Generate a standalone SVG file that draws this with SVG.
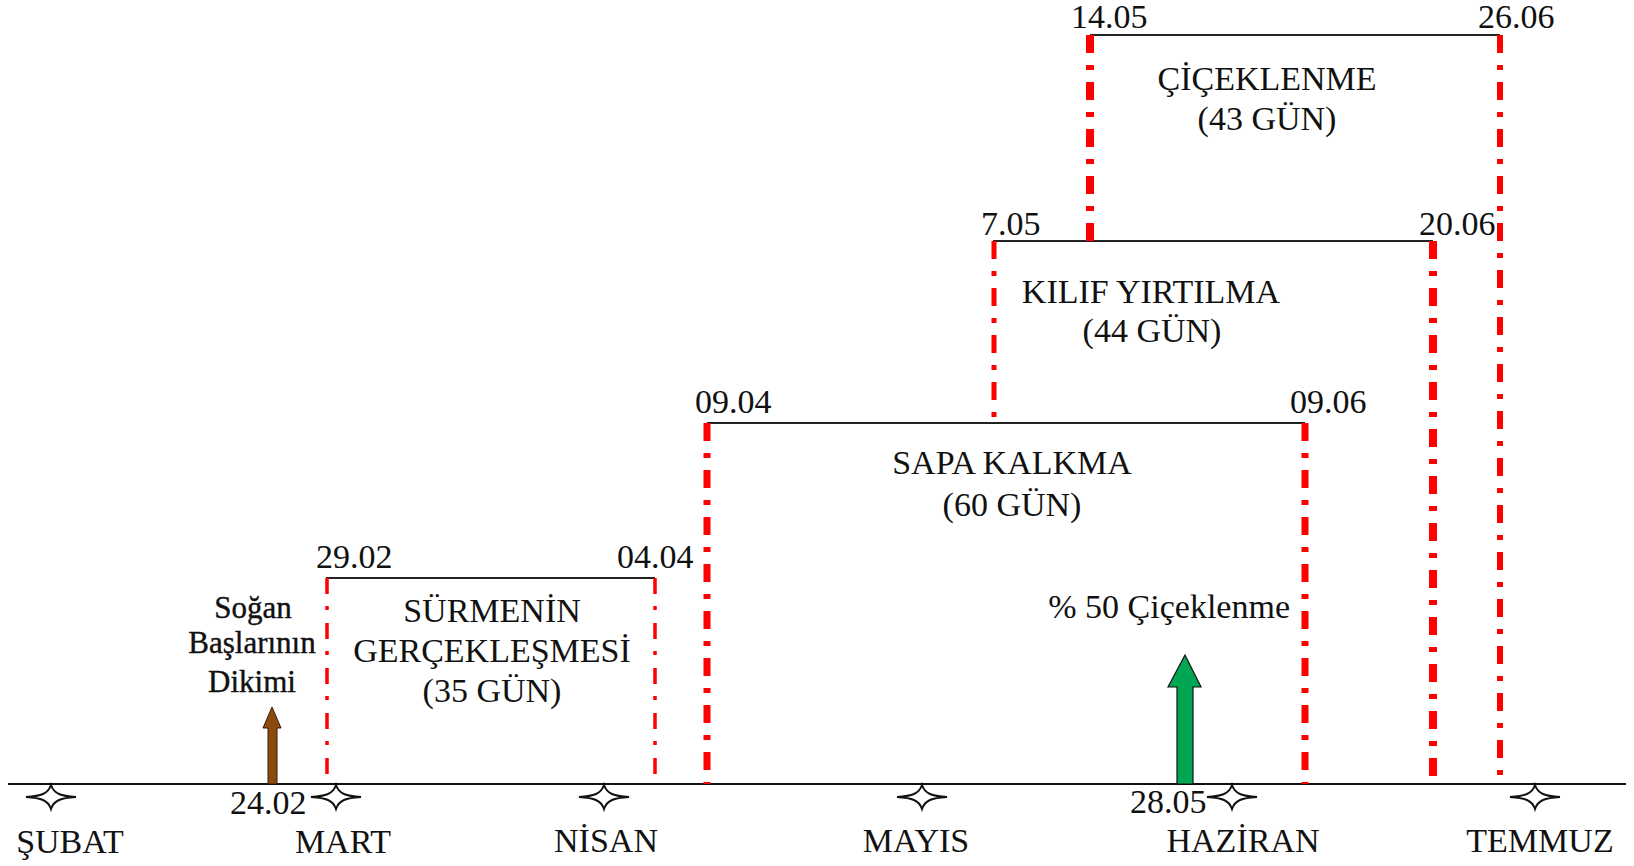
<svg xmlns="http://www.w3.org/2000/svg" width="1634" height="866" viewBox="0 0 1634 866">
<style>
text{font-family:"Liberation Serif","Times New Roman",serif;fill:#111;font-size:34px}
.c{text-anchor:middle}
.e{text-anchor:end}
.top{stroke:#222;stroke-width:2;fill:none}
.red{stroke:#ff0000;fill:none;stroke-dasharray:18 12 5 12}
.thin{stroke-width:3.5;stroke-dasharray:16 12 4 13}
.star{fill:#fff;stroke:#111;stroke-width:2}
.axis{stroke:#111;stroke-width:2}
.small{font-size:31px;stroke:#111;stroke-width:0.4}
</style>
<defs>
<path id="star" d="M-25,0 C-10,-1 -3,-3 0,-12 C3,-3 10,-1 25,0 C10,1 3,3 0,12 C-3,3 -10,1 -25,0 Z"/>
</defs>
<g id="connectors">
<line class="axis" x1="8" y1="784" x2="1626" y2="784"/>
<line class="top" x1="326" y1="578" x2="655" y2="578"/>
<line class="red thin" x1="327" y1="578" x2="327" y2="784"/>
<line class="red thin" x1="655" y1="578" x2="655" y2="784"/>
<line class="top" x1="707" y1="423" x2="1305" y2="423"/>
<line class="red" stroke-width="7" x1="707" y1="423" x2="707" y2="784"/>
<line class="red" stroke-width="7" x1="1305" y1="423" x2="1305" y2="784"/>
<line class="top" x1="993" y1="241" x2="1433" y2="241"/>
<line class="red" stroke-width="5" x1="994" y1="241" x2="994" y2="423"/>
<line class="red" stroke-width="8" x1="1433" y1="241" x2="1433" y2="784"/>
<line class="top" x1="1090" y1="35" x2="1500" y2="35"/>
<line class="red" stroke-width="8" x1="1090" y1="35" x2="1090" y2="241"/>
<line class="red" stroke-width="6" x1="1500" y1="35" x2="1500" y2="784"/>
<path d="M268,784 L268,728 L263,728 L272,707 L281,728 L277,728 L277,784 Z" fill="#8b4a0f" stroke="#3a1a00" stroke-width="1"/>
<path d="M1177,784 L1177,687 L1168,687 L1185,655 L1201,687 L1193,687 L1193,784 Z" fill="#00a651" stroke="#111" stroke-width="1.2"/>
</g>
<g id="stars">
<use href="#star" class="star" x="51" y="797"/>
<use href="#star" class="star" x="336" y="797"/>
<use href="#star" class="star" x="604" y="797"/>
<use href="#star" class="star" x="922" y="797"/>
<use href="#star" class="star" x="1232" y="797"/>
<use href="#star" class="star" x="1535" y="797"/>
</g>
<g id="months">
<text class="c" x="70" y="853">ŞUBAT</text>
<text class="c" x="343" y="853">MART</text>
<text class="c" x="606" y="852">NİSAN</text>
<text class="c" x="916" y="852">MAYIS</text>
<text class="c" x="1243" y="852">HAZİRAN</text>
<text class="c" x="1540" y="852">TEMMUZ</text>
</g>
<g id="node-surmenin">
<text x="316" y="568">29.02</text>
<text x="617" y="568">04.04</text>
<text class="c" x="492" y="622">SÜRMENİN</text>
<text class="c" x="492" y="662">GERÇEKLEŞMESİ</text>
<text class="c" x="492" y="702">(35 GÜN)</text>
</g>
<g id="node-sapa">
<text x="695" y="413">09.04</text>
<text x="1290" y="413">09.06</text>
<text class="c" x="1012" y="474">SAPA KALKMA</text>
<text class="c" x="1012" y="516">(60 GÜN)</text>
</g>
<g id="node-kilif">
<text x="981" y="235">7.05</text>
<text x="1419" y="235">20.06</text>
<text class="c" x="1151" y="303">KILIF YIRTILMA</text>
<text class="c" x="1152" y="342">(44 GÜN)</text>
</g>
<g id="node-cicek">
<text x="1071" y="28">14.05</text>
<text x="1478" y="28">26.06</text>
<text class="c" x="1267" y="90">ÇİÇEKLENME</text>
<text class="c" x="1267" y="130">(43 GÜN)</text>
</g>
<g id="node-dikim">
<text class="c small" x="253" y="618">Soğan</text>
<text class="c small" x="252" y="653">Başlarının</text>
<text class="c small" x="252" y="692">Dikimi</text>
<text x="230" y="814">24.02</text>
</g>
<g id="node-yuzde50">
<text class="e" x="1290" y="618">% 50 Çiçeklenme</text>
<text x="1130" y="813">28.05</text>
</g>
</svg>
